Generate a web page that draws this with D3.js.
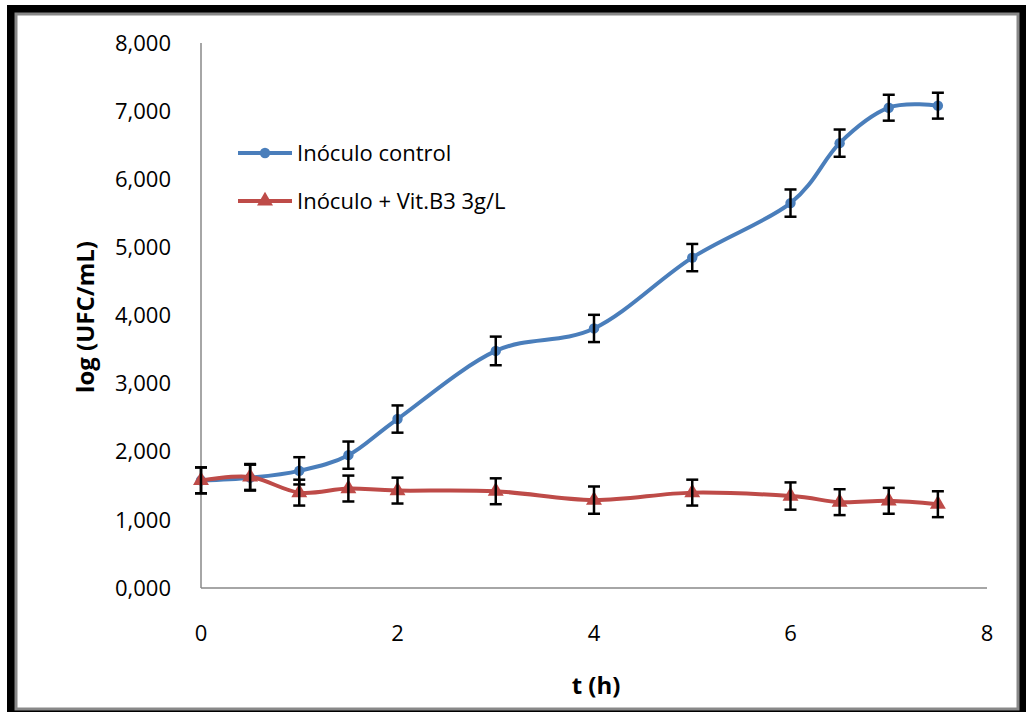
<!DOCTYPE html>
<html>
<head>
<meta charset="utf-8">
<script src="https://cdn.jsdelivr.net/npm/d3@7"></script>
<style>
  body { margin: 0; background: #fff; }
  text { font-family: "Open Sans", "Noto Sans", sans-serif; fill: #000; }
</style>
</head>
<body>
<div id="chart"></div>
<script>
(function() {
  var width = 1026,
    height = 713;

  // time in hours
  var hours = [0, 0.5, 1, 1.5, 2, 3, 4, 5, 6, 6.5, 7, 7.5];
  var control = [1.58, 1.62, 1.72, 1.95, 2.48, 3.48, 3.81, 4.85, 5.65, 6.53, 7.05, 7.08];
  var controlErr = [0.19, 0.19, 0.2, 0.2, 0.2, 0.21, 0.2, 0.2, 0.2, 0.2, 0.19, 0.19];
  var vitB3 = [1.58, 1.63, 1.40, 1.46, 1.43, 1.42, 1.29, 1.40, 1.35, 1.26, 1.28, 1.23];
  var vitB3Err = [0.19, 0.19, 0.19, 0.19, 0.19, 0.19, 0.2, 0.19, 0.2, 0.19, 0.19, 0.19];
  var xTicks = [0, 2, 4, 6, 8];
  var yTicks = [0, 1, 2, 3, 4, 5, 6, 7, 8];
  var seriesNames = ["Inóculo control", "Inóculo + Vit.B3 3g/L"];

  var svg = d3.select("#chart")
    .append("svg")
    .attr("width", width)
    .attr("height", height)

  // frame with a dark offset edge
  svg.append("rect")
    .attr("x", 7).attr("y", 5)
    .attr("width", width - 7).attr("height", height - 6)
    .attr("fill", "#000")
  svg.append("rect")
    .attr("x", 16).attr("y", 14)
    .attr("width", width - 24).attr("height", height - 18)
    .attr("fill", "#fff")
    .attr("stroke", "#888")
    .attr("stroke-width", 3)

  var x = d3.scaleLinear().domain([0, 8]).range([201, 987])
  var y = d3.scaleLinear().domain([0, 8]).range([588, 43])

  var g = svg.append("g")

  g.append("line")
    .attr("x1", x(0)).attr("x2", x(0))
    .attr("y1", y(8)).attr("y2", y(0))
    .attr("stroke", "#888").attr("stroke-width", 1.5)
  g.append("line")
    .attr("x1", x(0)).attr("x2", x(8))
    .attr("y1", y(0)).attr("y2", y(0))
    .attr("stroke", "#888").attr("stroke-width", 1.5)

  g.selectAll(".ytick")
    .data(yTicks)
    .enter().append("text")
    .attr("class", "ytick")
    .attr("x", 171)
    .attr("y", function(d) { return y(d) })
    .attr("dy", "0.35em")
    .attr("text-anchor", "end")
    .attr("font-size", 22)
    .text(function(d) { return d + ",000" })

  g.selectAll(".xtick")
    .data(xTicks)
    .enter().append("text")
    .attr("class", "xtick")
    .attr("x", function(d) { return x(d) })
    .attr("y", 633)
    .attr("dy", "0.35em")
    .attr("text-anchor", "middle")
    .attr("font-size", 22)
    .text(function(d) { return d })

  svg.append("text")
    .attr("transform", "translate(86, 317) rotate(-90)")
    .attr("text-anchor", "middle")
    .attr("dy", "0.35em")
    .attr("font-size", 24)
    .attr("font-weight", "bold")
    .text("log (UFC/mL)")

  svg.append("text")
    .attr("x", 596)
    .attr("y", 686)
    .attr("text-anchor", "middle")
    .attr("dy", "0.35em")
    .attr("font-size", 24)
    .attr("font-weight", "bold")
    .text("t (h)")

  var series = [
    { name: seriesNames[0], values: control, err: controlErr, color: "#4a7ebb", shape: d3.symbolCircle },
    { name: seriesNames[1], values: vitB3, err: vitB3Err, color: "#be4b48", shape: d3.symbolTriangle }
  ]

  var line = d3.line()
    .x(function(d) { return x(d[0]) })
    .y(function(d) { return y(d[1]) })
    .curve(d3.curveCatmullRom.alpha(0))

  series.forEach(function(s) {
    var pts = hours.map(function(h, i) { return [h, s.values[i], s.err[i]] })

    g.append("path")
      .datum(pts)
      .attr("d", line)
      .attr("fill", "none")
      .attr("stroke", s.color)
      .attr("stroke-width", 4)

    g.selectAll(null)
      .data(pts)
      .enter().append("path")
      .attr("transform", function(d) { return "translate(" + x(d[0]) + "," + y(d[1]) + ")" })
      .attr("d", d3.symbol().type(s.shape).size(s.shape === d3.symbolCircle ? 85 : 110))
      .attr("fill", s.color)

    var bars = g.selectAll(null)
      .data(pts)
      .enter().append("g")
      .attr("stroke", "#000")
      .attr("stroke-width", 2.5)
    bars.append("line")
      .attr("x1", function(d) { return x(d[0]) })
      .attr("x2", function(d) { return x(d[0]) })
      .attr("y1", function(d) { return y(d[1] + d[2]) })
      .attr("y2", function(d) { return y(d[1] - d[2]) })
    bars.append("line")
      .attr("x1", function(d) { return x(d[0]) - 6 })
      .attr("x2", function(d) { return x(d[0]) + 6 })
      .attr("y1", function(d) { return y(d[1] + d[2]) })
      .attr("y2", function(d) { return y(d[1] + d[2]) })
    bars.append("line")
      .attr("x1", function(d) { return x(d[0]) - 6 })
      .attr("x2", function(d) { return x(d[0]) + 6 })
      .attr("y1", function(d) { return y(d[1] - d[2]) })
      .attr("y2", function(d) { return y(d[1] - d[2]) })
  })

  // legend
  var legend = svg.selectAll(".legend")
    .data(series)
    .enter().append("g")
    .attr("class", "legend")
    .attr("transform", function(d, i) { return "translate(238," + (153 + i * 48) + ")" })
  legend.append("line")
    .attr("x1", 0).attr("x2", 54)
    .attr("stroke", function(d) { return d.color })
    .attr("stroke-width", 4)
  legend.append("path")
    .attr("transform", "translate(27,0)")
    .attr("d", function(d) { return d3.symbol().type(d.shape).size(d.shape === d3.symbolCircle ? 85 : 110)() })
    .attr("fill", function(d) { return d.color })
  legend.append("text")
    .attr("x", 59)
    .attr("dy", "0.35em")
    .attr("font-size", 22)
    .text(function(d) { return d.name })
})();
</script>
</body>
</html>
